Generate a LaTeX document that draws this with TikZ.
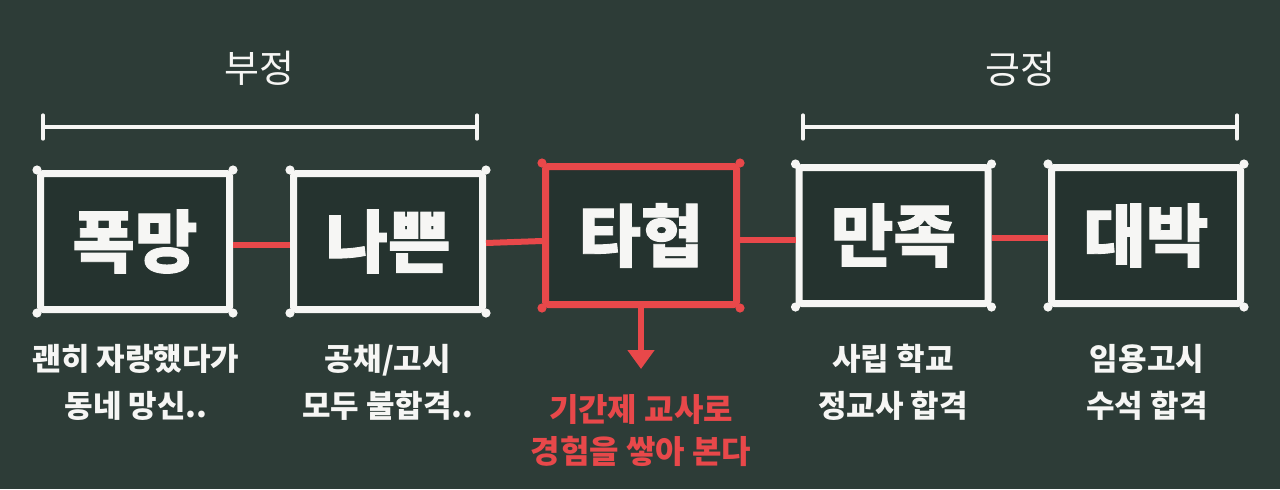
\documentclass[tikz,border=0pt]{standalone}
\usepackage{fontspec}
\newfontfamily\kr{Noto Sans CJK KR}
\newfontfamily\krh[BoldFeatures={FakeBold=1.3}]{Noto Sans CJK KR}
\usetikzlibrary{arrows.meta}
\definecolor{board}{RGB}{45,60,55}
\definecolor{boxfill}{RGB}{37,51,47}
\definecolor{chalk}{RGB}{246,246,244}
\definecolor{chalkred}{RGB}{232,72,74}
\begin{document}
\begin{tikzpicture}[x=0.5pt,y=-0.5pt,
  box/.style={draw=chalk, fill=boxfill, line width=3.5pt, rounded corners=1.5pt,
    minimum width=94.5pt, minimum height=68pt, inner sep=0pt, text=chalk,
    font=\krh\bfseries\fontsize{34}{36}\selectfont},
  redbox/.style={box, draw=chalkred, minimum width=95.5pt, minimum height=69pt},
  conn/.style={draw=chalkred, line width=3pt},
  bracket/.style={draw=chalk, line width=1.6pt, line cap=round},
  title/.style={text=chalk, font=\kr\fontsize{19}{22}\selectfont, inner sep=0pt},
  sub/.style={text=chalk, align=center, inner sep=0pt, font=\kr\bfseries\fontsize{15.5}{23.5}\selectfont},
  redsub/.style={sub, text=chalkred, font=\kr\bfseries\fontsize{16}{21}\selectfont},
  blob/.style={fill=chalk},
  redblob/.style={fill=chalkred}
]
\fill[board] (0,0) rectangle (1280,489);
\useasboundingbox (0,0) rectangle (1280,489);

% titles and brackets
\node[title] (neg) at (259,68) {부정};
\node[title] (pos) at (1020,69) {긍정};
\coordinate (bl1) at (43,127);
\coordinate (bl2) at (477,127);
\coordinate (br1) at (803,127);
\coordinate (br2) at (1237,127);
\draw[bracket] (bl1) -- (bl2);
\draw[bracket] ([yshift=-6pt]bl1) -- ([yshift=6pt]bl1);
\draw[bracket] ([yshift=-6pt]bl2) -- ([yshift=6pt]bl2);
\draw[bracket] (br1) -- (br2);
\draw[bracket] ([yshift=-6pt]br1) -- ([yshift=6pt]br1);
\draw[bracket] ([yshift=-6pt]br2) -- ([yshift=6pt]br2);

% boxes
\node[box] (b1) at (135,241.5) {폭망};
\node[box] (b2) at (388,241.5) {나쁜};
\node[redbox] (b3) at (641,235.5) {타협};
\node[box] (b4) at (893.5,235.5) {만족};
\node[box] (b5) at (1146,235.5) {대박};

\foreach \b in {b1,b2,b4,b5}
  \foreach \a in {north west,north east,south west,south east}
    \fill[blob] (\b.\a) circle (2.3pt);
\foreach \a in {north west,north east,south west,south east}
  \fill[redblob] (b3.\a) circle (2.3pt);

% connectors
\draw[conn] ([yshift=-1.75pt]b1.east) -- ([yshift=-1.75pt]b2.west);
\draw[conn] ([yshift=-0.75pt]b2.east) -- ([yshift=-2.75pt]b3.west);
\draw[conn] ([yshift=-2.25pt]b3.east) -- ([yshift=-2.25pt]b4.west);
\draw[conn] ([yshift=-1.25pt]b4.east) -- ([yshift=-1.25pt]b5.west);

% arrow
\coordinate (tip) at (641,369);
\draw[conn, -{Triangle[width=13pt,length=9.5pt]}] (b3.south) -- (tip);

% descriptions
\node[sub] (t1) at (136,382) {괜히 자랑했다가\\동네 망신..};
\node[sub] (t2) at (388,382) {공채/고시\\모두 불합격..};
\node[redsub] (t3) at (641,431) {기간제 교사로\\경험을 쌓아 본다};
\node[sub] (t4) at (893,382) {사립 학교\\정교사 합격};
\node[sub] (t5) at (1147,382) {임용고시\\수석 합격};
\end{tikzpicture}
\end{document}
